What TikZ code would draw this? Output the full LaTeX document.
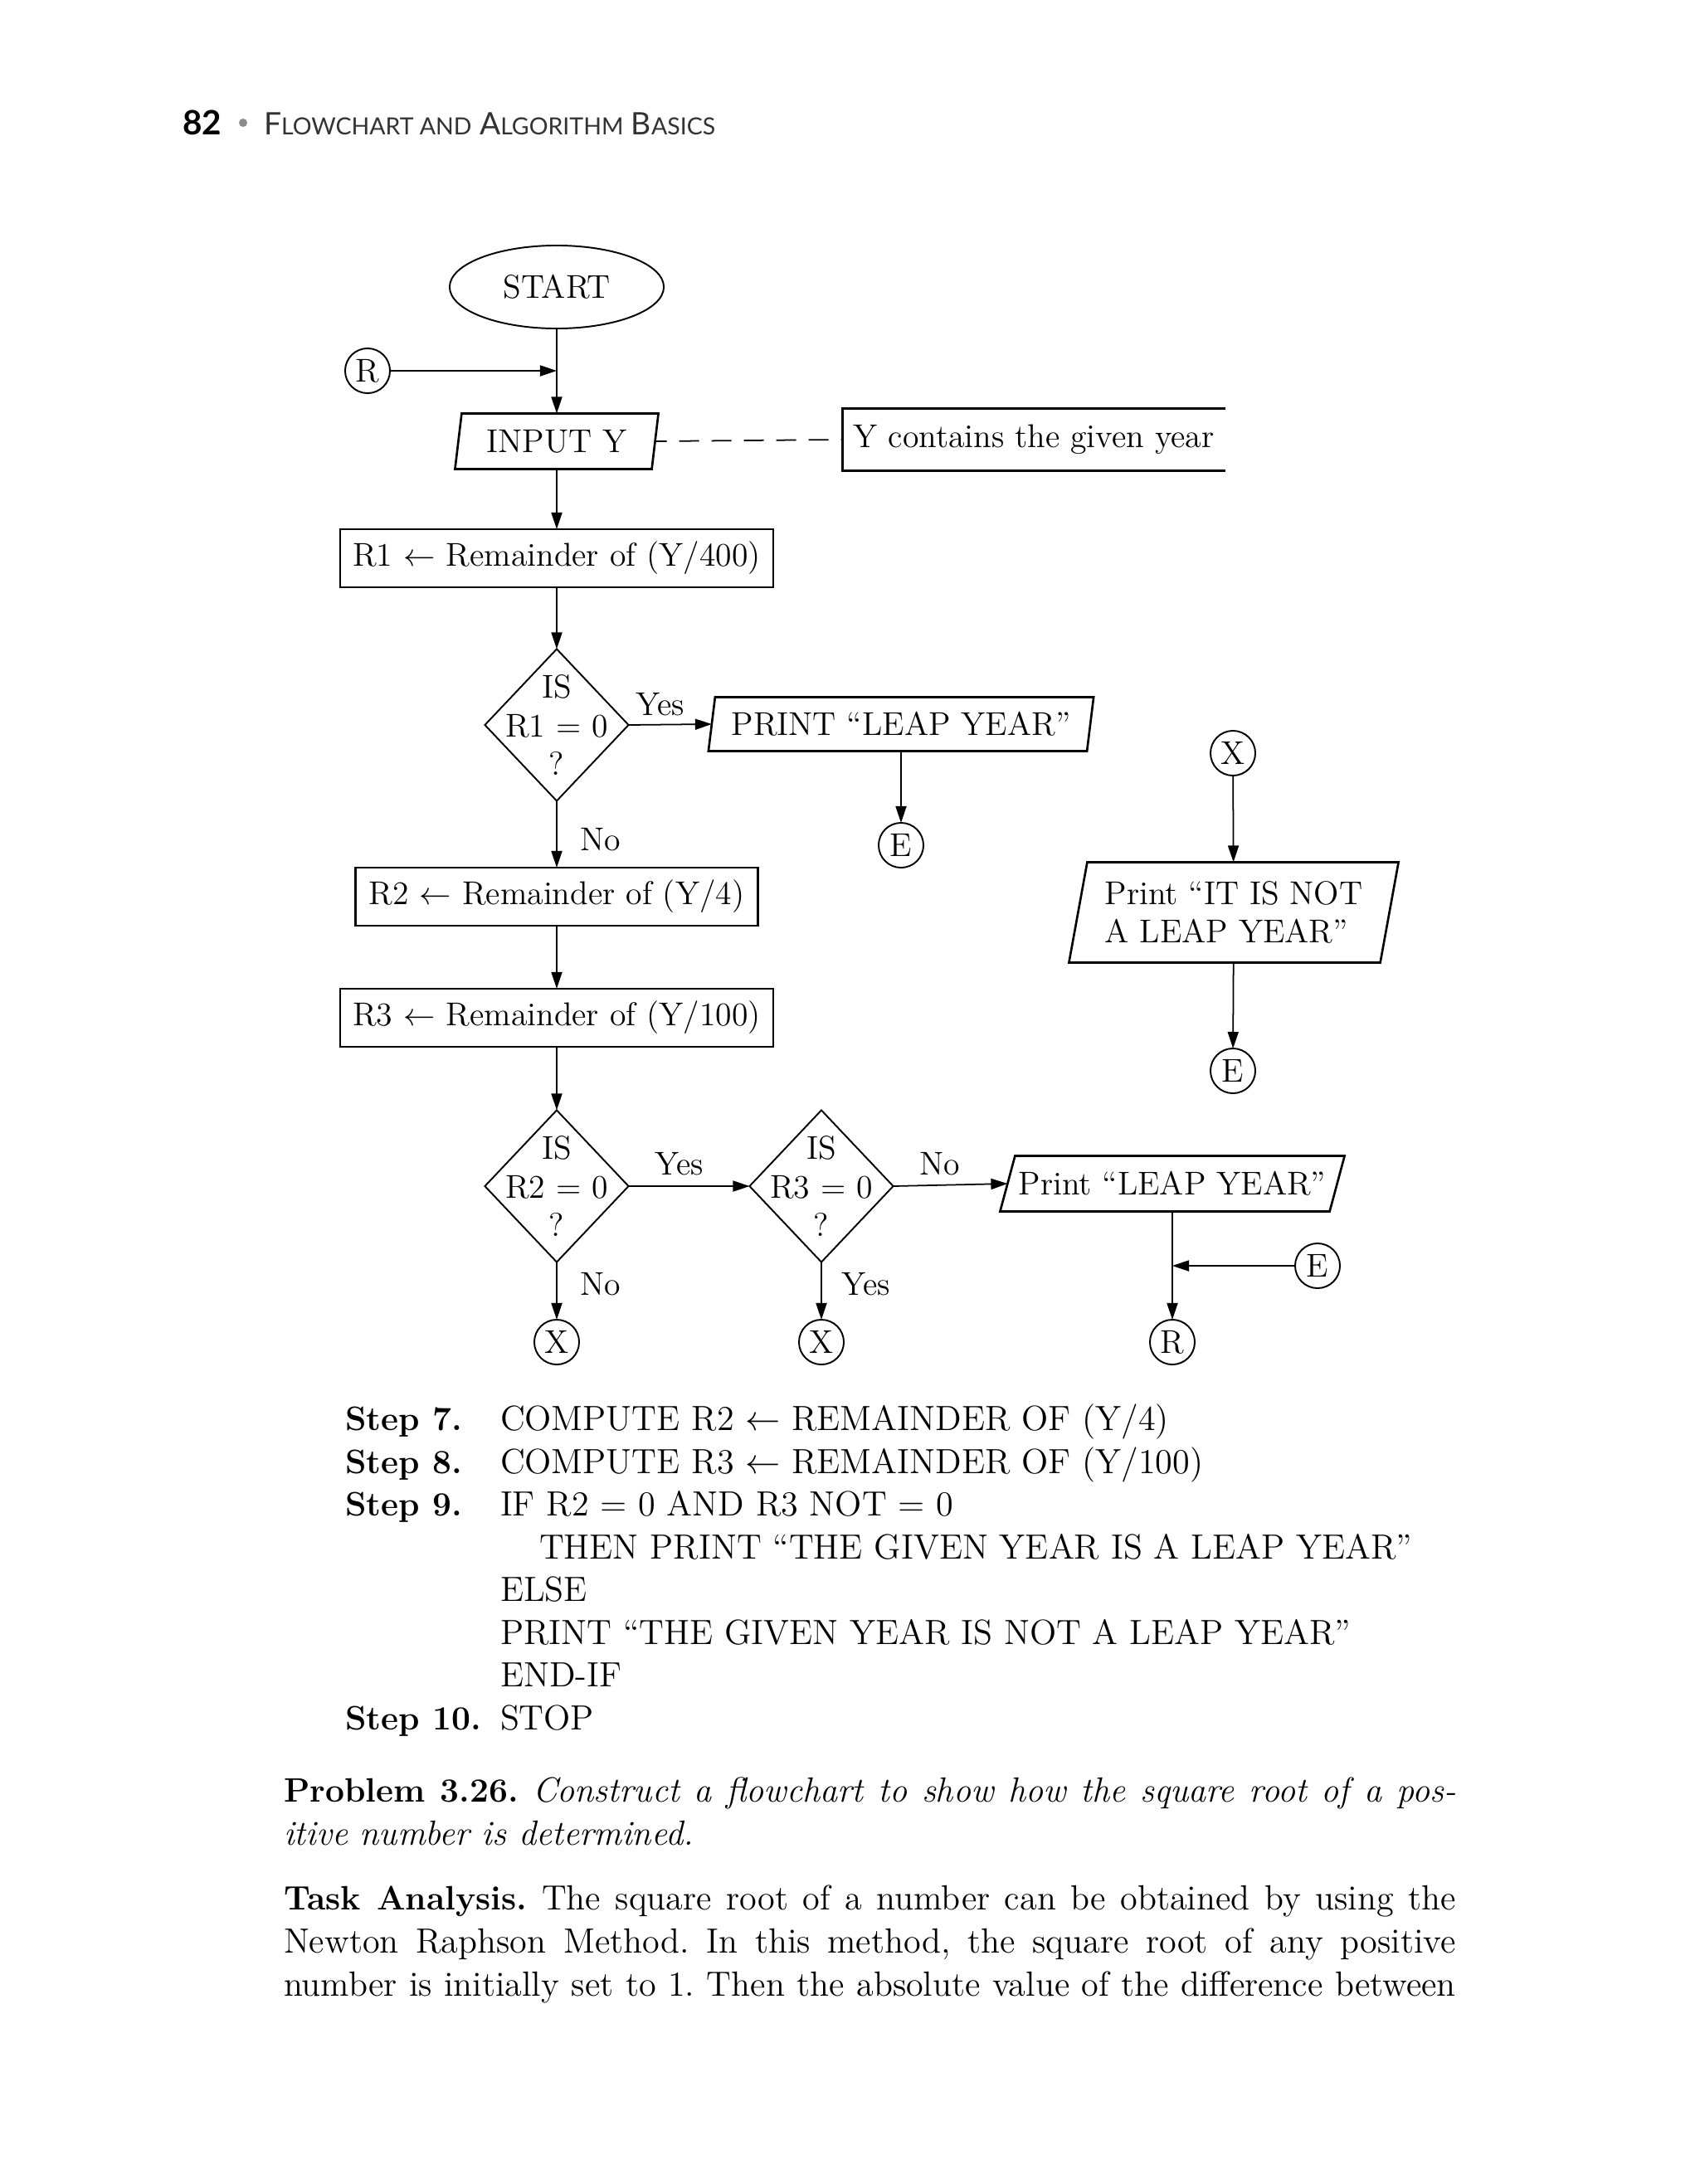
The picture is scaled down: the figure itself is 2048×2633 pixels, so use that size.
\documentclass[tikz,border=0pt]{standalone}
\usepackage{fontspec}
\newfontfamily\hdrfam{Lato}
\usetikzlibrary{shapes.geometric,arrows.meta}
\frenchspacing
\newcommand\dfont{\fontsize{11.3}{13.3}\selectfont}
\newcommand\bfont{\frenchspacing\fontsize{12}{14.7}\selectfont}
\newcommand\lblb[1]{{\fontsize{11.6}{14.7}\selectfont\bfseries #1}}
\newcommand\hdrfont{\hdrfam\fontsize{10.6}{12}\selectfont}
\newcommand\hdrsc{\fontsize{8.1}{10}\selectfont}
\newcommand\hdrbold{\hdrfam\bfseries\fontsize{11.5}{12}\selectfont}
\newcommand\parabox[2]{\draw[pline] ([xshift=#2]#1.north west) -- ([xshift=#2]#1.north east) -- ([xshift=-#2]#1.south east) -- ([xshift=-#2]#1.south west) -- cycle;}
\begin{document}
\begin{tikzpicture}[x=0.01cm, y=-0.01cm,
  every node/.style={inner sep=0pt, outer sep=0pt},
  conn/.style={line width=0.5pt, -{Triangle[length=0.2cm,width=0.13cm]}},
  rbox/.style={draw, line width=0.75pt, rectangle, font=\dfont},
  pnode/.style={rectangle, font=\dfont},
  pline/.style={line width=0.75pt, line join=miter},
  conc/.style={draw, circle, line width=0.55pt, minimum size=0.54cm, font=\dfont},
  dec/.style={draw, diamond, line width=0.55pt, minimum width=1.73cm, minimum height=1.83cm},
  dtxt/.style={font=\dfont, align=center},
  lbl/.style={font=\dfont},
  btxt/.style={font=\bfont, anchor=base west},
]
\fill[white] (0,0) rectangle (2048,2633);
\useasboundingbox (0,0) rectangle (2048,2633);

% header
\node[anchor=base west, font=\hdrbold] (pg) at (220,162) {82};
\node[circle, fill=black!45, minimum size=0.1cm] (bul) at (293,148) {};
\node[anchor=base west, font=\hdrfont, text=black!80] (ttl) at (318,162) {F{\hdrsc LOWCHART AND} A{\hdrsc LGORITHM} B{\hdrsc ASICS}};

% flowchart nodes
\node[draw, ellipse, line width=0.55pt, minimum width=2.58cm, minimum height=1.0cm, font=\dfont] (start) at (671,346) {START};
\node[conc] (cr1) at (443,447) {R};
\coordinate (rj) at (671,447);

\node[pnode, minimum width=2.37cm, minimum height=0.67cm] (inp) at (671,532) {INPUT Y};
\parabox{inp}{0.04cm}
\node[pnode, minimum width=4.61cm, minimum height=0.75cm] (cmt) at (1246,530) {Y contains the given year};
\draw[line width=0.75pt] (cmt.north east) -- (cmt.north west) -- (cmt.south west) -- (cmt.south east);
\draw[line width=0.5pt, dash pattern=on 0.24cm off 0.15cm, dash phase=0.1cm] (inp.east) -- (cmt.west);

\node[rbox, minimum width=5.22cm, minimum height=0.70cm] (r1) at (671,673) {R1 $\leftarrow$ Remainder of (Y/400)};
\node[dec] (d1) at (671,874) {};
\node[dtxt] (d1t) at (671,874) {IS\\R1 = 0\\?};
\node[pnode, minimum width=4.56cm, minimum height=0.65cm] (p1) at (1086,873) {PRINT “LEAP YEAR”};
\parabox{p1}{0.04cm}
\node[conc] (e1) at (1086,1019) {E};

\node[rbox, minimum width=4.85cm, minimum height=0.70cm] (r2) at (671,1081) {R2 $\leftarrow$ Remainder of (Y/4)};
\node[rbox, minimum width=5.22cm, minimum height=0.70cm] (r3) at (671,1227) {R3 $\leftarrow$ Remainder of (Y/100)};

\node[dec] (d2) at (671,1430) {};
\node[dtxt] (d2t) at (671,1430) {IS\\R2 = 0\\?};
\node[dec] (d3) at (990,1430) {};
\node[dtxt] (d3t) at (990,1430) {IS\\R3 = 0\\?};
\node[pnode, minimum width=3.97cm, minimum height=0.67cm] (p2) at (1413,1427) {Print “LEAP YEAR”};
\parabox{p2}{0.09cm}
\node[conc] (x2) at (671,1618) {X};
\node[conc] (x3) at (990,1618) {X};
\node[conc] (cr2) at (1413,1618) {R};
\node[conc] (e3) at (1588,1526) {E};
\coordinate (j2) at (1413,1526);

\node[conc] (x1) at (1486,908) {X};
\node[pnode, minimum width=3.75cm, minimum height=1.21cm, align=left] (pn) at (1487,1100) {Print “IT IS NOT\\A LEAP YEAR”};
\parabox{pn}{0.11cm}
\node[conc] (e2) at (1486,1291) {E};

% connectors
\draw[line width=0.5pt] (start.south) -- (rj);
\draw[conn] (rj) -- (inp.north);
\draw[conn] (cr1) -- (rj);
\draw[conn] (inp) -- (r1);
\draw[conn] (r1) -- (d1);
\draw[conn] (d1.east) -- (p1.west);
\draw[conn] (p1) -- (e1);
\draw[conn] (d1) -- (r2);
\draw[conn] (r2) -- (r3);
\draw[conn] (r3) -- (d2);
\draw[conn] (d2.east) -- (d3.west);
\draw[conn] (d3.east) -- (p2.west);
\draw[conn] (d2) -- (x2);
\draw[conn] (d3) -- (x3);
\draw[conn] (p2) -- (cr2);
\draw[conn] (e3) -- (j2);
\draw[conn] (x1) -- (pn);
\draw[conn] (pn) -- (e2);

% connector labels
\node[lbl] (ly1) at (796,849) {Yes};
\node[lbl] (ln1) at (724,1012) {No};
\node[lbl] (ly2) at (819,1403) {Yes};
\node[lbl] (ln2) at (1133,1403) {No};
\node[lbl] (ln3) at (724,1548) {No};
\node[lbl] (ly3) at (1044,1548) {Yes};

% algorithm steps
\node[btxt] (s7) at (416,1724) {\lblb{Step 7.}};
\node[btxt] (t7) at (603,1724) {COMPUTE R2 $\leftarrow$ REMAINDER OF (Y/4)};
\node[btxt] (s8) at (416,1776) {\lblb{Step 8.}};
\node[btxt] (t8) at (603,1776) {COMPUTE R3 $\leftarrow$ REMAINDER OF (Y/100)};
\node[btxt] (s9) at (416,1827) {\lblb{Step 9.}};
\node[btxt] (t9) at (603,1827) {IF R2 = 0 AND R3 NOT = 0};
\node[btxt] (t9a) at (650,1879) {THEN PRINT “THE GIVEN YEAR IS A LEAP YEAR”};
\node[btxt] (t9b) at (603,1930) {ELSE};
\node[btxt] (t9c) at (603,1982) {PRINT “THE GIVEN YEAR IS NOT A LEAP YEAR”};
\node[btxt] (t9d) at (603,2033) {END-IF};
\node[btxt] (s10) at (416,2085) {\lblb{Step 10.}};
\node[btxt] (t10) at (603,2085) {STOP};

% problem text
\node[btxt] (pr1) at (342,2172) {\makebox[14.12cm][s]{\lblb{Problem 3.26.} \textit{Construct a flowchart to show how the square root of a pos-}}};
\node[btxt] (pr2) at (342,2224) {\textit{itive number is determined.}};
\node[btxt] (ta1) at (342,2302) {\makebox[14.12cm][s]{\lblb{Task Analysis.} The square root of a number can be obtained by using the}};
\node[btxt] (ta2) at (342,2354) {\makebox[14.12cm][s]{Newton Raphson Method. In this method, the square root of any positive}};
\node[btxt] (ta3) at (342,2406) {\makebox[14.12cm][s]{number is initially set to 1. Then the absolute value of the difference between}};
\end{tikzpicture}
\end{document}
